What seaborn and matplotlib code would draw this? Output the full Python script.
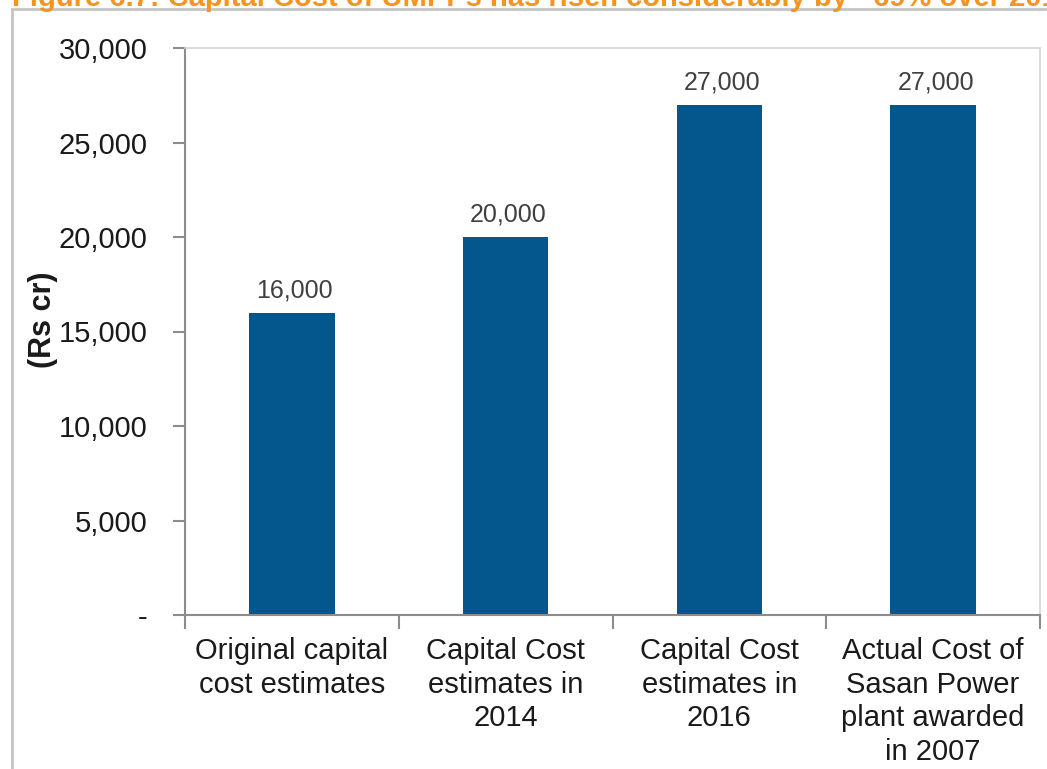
import matplotlib
matplotlib.use("Agg")
import matplotlib.pyplot as plt
import seaborn as sns
import pandas as pd
from matplotlib.ticker import FuncFormatter, NullFormatter
from matplotlib.patches import Rectangle

categories = ["Original capital\ncost estimates",
              "Capital Cost\nestimates in\n2014",
              "Capital Cost\nestimates in\n2016",
              "Actual Cost of\nSasan Power\nplant awarded\nin 2007"]
values = [16000, 20000, 27000, 27000]
title_text = "Figure 6.7: Capital Cost of UMPPs has risen considerably by ~69% over 2014-16"
ylabel_text = "(Rs cr)"

sns.set_theme(style="white")
plt.rcParams['font.family'] = ['Liberation Sans', 'DejaVu Sans']

df = pd.DataFrame({"cat": categories, "val": values})

fig = plt.figure(figsize=(10.47, 7.69), dpi=100)
ax = fig.add_axes([185/1047, 1-615/769, (1040-185)/1047, (615-48)/769])

sns.barplot(data=df, x="cat", y="val", color="#04578c", width=0.4,
            saturation=1, ax=ax, edgecolor="none")

ax.set_ylim(0, 30000)
ax.set_xlim(-0.5, 3.5)
ax.set_yticks([0, 5000, 10000, 15000, 20000, 25000, 30000])
ax.yaxis.set_major_formatter(FuncFormatter(lambda v, p: "-" if v == 0 else f"{int(v):,}"))
ax.tick_params(axis="y", labelsize=21, labelcolor="#1a1a1a", length=9, width=1.5,
               color="#8c8c8c", direction="out", left=True, pad=18)

ax.set_xticks([-0.5, 0.5, 1.5, 2.5, 3.5])
ax.xaxis.set_major_formatter(NullFormatter())
ax.set_xticks([0, 1, 2, 3], minor=True)
ax.set_xticklabels(categories, minor=True)
ax.tick_params(axis="x", which="major", length=10, width=1.5, color="#8c8c8c",
               direction="out", bottom=True)
ax.tick_params(axis="x", which="minor", length=0, labelsize=21,
               labelcolor="#1a1a1a", pad=16)
for lbl in ax.get_xticklabels(minor=True):
    lbl.set_linespacing(1.25)

ax.set_xlabel("")
ax.set_ylabel(ylabel_text, fontsize=22, fontweight="bold", color="#1a1a1a")
ax.yaxis.set_label_coords((58 - 185) / 855, (615 - 320) / 567)

for s in ["left", "bottom"]:
    ax.spines[s].set_color("#8c8c8c")
    ax.spines[s].set_linewidth(1.5)
for s in ["top", "right"]:
    ax.spines[s].set_visible(True)
    ax.spines[s].set_color("#d4d4d4")
    ax.spines[s].set_linewidth(1.2)

for p, v in zip(ax.patches, values):
    ax.annotate(f"{v:,}", (p.get_x() + p.get_width()/2, p.get_height()),
                xytext=(2, 7.5), textcoords="offset points", ha="center", va="bottom",
                fontsize=18, color="#404040")

fig.patches.append(Rectangle((12/1047, -0.05), 1.1, 1 - 9/769 + 0.05,
                             transform=fig.transFigure, fill=False,
                             edgecolor="#c4c4c4", linewidth=2))

fig.text(12/1047, 1 - 6/769, title_text, fontsize=21, fontweight="bold",
         color="#f7941d", ha="left", va="baseline")

fig.savefig("out.png", dpi=100)
